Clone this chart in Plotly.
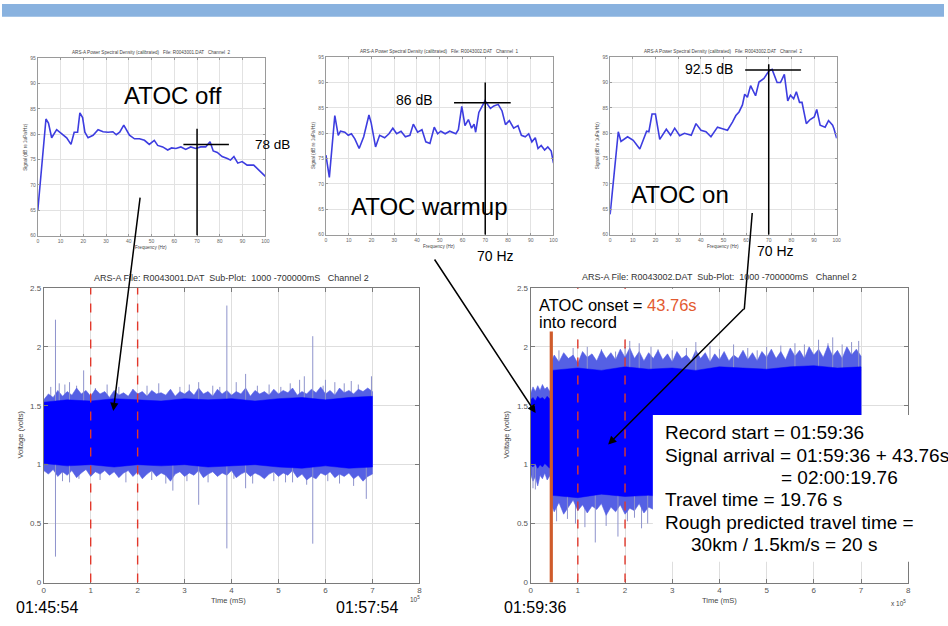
import numpy as np
import plotly.graph_objects as go

W, H = 948, 626
FONT = "Liberation Sans, Arial, sans-serif"

# ---------------- PSD spectra (frequency in Hz, level in dB) ----------------
psd_off_f = [0, 3.6, 4.7, 6.1, 8.3, 10.5, 12.7, 14.6, 16.0, 17.5, 18.5, 19.7, 20.7, 22.1, 24.3, 26.5, 28.7, 30.9,
             33.0, 34.5, 36.0, 37.8, 40.3, 42.5, 44.7, 46.9, 49.0, 51.2, 52.7, 54.9, 57.1, 58.8, 60.7, 62.9, 65.0,
             67.2, 69.4, 71.6, 73.8, 75.7, 77.1, 78.9, 81.0, 83.3, 84.7, 86.2, 87.9, 89.8, 92.0, 94.9, 97.1, 100]
psd_off_db = [64.9, 83.0, 82.2, 79.3, 80.9, 80.1, 79.3, 78.0, 80.4, 80.4, 84.2, 83.3, 80.4, 79.3, 79.8, 80.9, 80.5,
              80.4, 80.5, 79.9, 80.4, 81.8, 79.8, 79.1, 79.1, 78.8, 78.0, 78.8, 77.8, 77.5, 76.9, 77.3, 77.2, 77.5,
              77.0, 77.5, 77.2, 77.5, 77.5, 78.5, 76.7, 76.4, 75.6, 75.2, 74.9, 75.6, 74.3, 74.6, 73.9, 73.9, 73.0, 71.7]

psd_warm_f = [0, 1.5, 3.9, 5.4, 6.4, 8.3, 9.8, 11.2, 12.7, 14.6, 16.6, 18.9, 19.9, 21.8, 23.6, 25.8, 27.7, 29.4,
              31.1, 33.0, 34.9, 36.9, 38.4, 40.3, 42.2, 43.9, 45.7, 47.6, 49.1, 50.5, 52.4, 54.4, 57.1, 58.2, 59.7,
              61.1, 62.6, 64.0, 65.1, 65.8, 67.2, 69.9, 72.3, 73.8, 75.7, 77.4, 78.9, 80.6, 82.5, 84.4, 85.9, 87.6,
              89.1, 90.5, 92.0, 93.2, 94.6, 96.1, 97.5, 99.0, 100]
psd_warm_db = [75.7, 71.3, 83.5, 79.6, 80.4, 80.2, 79.6, 79.9, 78.9, 77.0, 79.3, 83.6, 82.0, 77.3, 79.6, 79.1, 79.9,
               81.0, 79.9, 80.4, 79.3, 79.6, 81.8, 80.2, 80.7, 78.3, 78.0, 81.2, 79.9, 80.4, 79.9, 80.4, 79.9, 80.7,
               85.3, 81.5, 82.7, 81.0, 81.8, 80.2, 84.1, 86.4, 84.9, 85.4, 85.7, 84.4, 81.7, 82.5, 81.0, 81.5, 79.6,
               79.3, 79.9, 78.3, 79.1, 77.0, 77.6, 76.7, 77.3, 76.5, 74.1]

psd_on_f = [0, 3.6, 4.8, 7.7, 10.2, 13.1, 16.1, 17.1, 18.5, 20.0, 21.9, 24.8, 26.7, 28.5, 30.7, 32.8, 35.8, 37.9,
            40.1, 42.3, 44.5, 47.4, 49.6, 51.8, 54.0, 55.5, 56.9, 58.4, 59.4, 60.6, 62.0, 63.2, 64.2, 65.7, 67.9,
            70.1, 71.5, 73.7, 75.2, 76.9, 78.4, 79.6, 81.0, 82.2, 83.6, 84.7, 86.6, 88.3, 90.1, 91.2, 92.7, 94.9,
            96.4, 98.2, 98.8, 100]
psd_on_db = [64.0, 80.3, 78.4, 79.3, 78.6, 76.9, 80.4, 80.3, 83.8, 83.8, 78.8, 80.8, 79.6, 81.0, 79.5, 80.0, 79.6,
             81.9, 80.6, 80.3, 79.3, 81.2, 80.9, 80.6, 82.2, 83.5, 84.2, 85.6, 87.7, 87.1, 89.4, 88.2, 87.4, 90.1,
             90.8, 92.3, 92.6, 90.0, 90.0, 91.6, 86.4, 87.5, 86.8, 88.2, 86.1, 86.1, 81.9, 82.7, 83.2, 84.7, 81.6,
             81.2, 82.5, 81.6, 80.9, 79.0]

# crosshair readings: (freq, level, horizontal span, vertical top)
mark_off = dict(f=70, db=78.0, f0=64, f1=84, top=81.1)
mark_warm = dict(f=70, db=86.0, f0=56.3, f1=81.2, top=90.0)
mark_on = dict(f=70, db=92.5, f0=59.6, f1=84.2, top=93.6)

# ---------------- time series envelopes (time in 1e5 ms, volts) ----------------
left_t = np.round(np.arange(0, 7.001, 0.1), 2)
left_top_fringe = [1.55, 1.60, 1.57, 1.63, 1.58, 1.62, 1.59, 1.65, 1.60, 1.63,
                   1.58, 1.64, 1.60, 1.62, 1.57, 1.63, 1.59, 1.61, 1.58, 1.64,
                   1.60, 1.62, 1.58, 1.63, 1.60, 1.61, 1.59, 1.64, 1.58, 1.62,
                   1.60, 1.63, 1.59, 1.65, 1.60, 1.62, 1.58, 1.64, 1.60, 1.63,
                   1.59, 1.62, 1.60, 1.65, 1.58, 1.63, 1.60, 1.62, 1.59, 1.64,
                   1.60, 1.63, 1.61, 1.65, 1.59, 1.62, 1.60, 1.64, 1.61, 1.66,
                   1.60, 1.63, 1.59, 1.65, 1.61, 1.63, 1.60, 1.64, 1.62, 1.65, 1.62]
left_bot_fringe = [0.95, 0.92, 0.96, 0.90, 0.94, 0.91, 0.95, 0.89, 0.93, 0.96,
                   0.90, 0.94, 0.92, 0.95, 0.91, 0.94, 0.89, 0.93, 0.95, 0.90,
                   0.94, 0.88, 0.92, 0.95, 0.90, 0.93, 0.91, 0.86, 0.92, 0.94,
                   0.90, 0.93, 0.91, 0.95, 0.89, 0.92, 0.94, 0.90, 0.93, 0.91,
                   0.95, 0.89, 0.92, 0.94, 0.90, 0.93, 0.91, 0.88, 0.92, 0.94,
                   0.90, 0.93, 0.91, 0.95, 0.89, 0.92, 0.87, 0.90, 0.88, 0.93,
                   0.91, 0.94, 0.89, 0.92, 0.90, 0.93, 0.88, 0.91, 0.86, 0.90, 0.92]
left_core_t = np.round(np.arange(0, 7.001, 0.5), 2)
left_top_core = [1.53, 1.55, 1.54, 1.56, 1.55, 1.54, 1.56, 1.55, 1.56, 1.54, 1.56, 1.57, 1.55, 1.57, 1.58]
left_bot_core = [1.01, 0.99, 1.00, 0.98, 1.00, 0.99, 1.00, 0.98, 0.99, 1.00, 0.98, 0.97, 0.99, 0.97, 0.98]
left_spike_up_t = [0.25, 0.33, 0.55, 0.85, 3.30, 3.90, 4.30, 5.55, 5.73, 6.00, 6.98]
left_spike_up_v = [2.23, 1.69, 1.70, 1.80, 1.70, 2.35, 1.77, 1.75, 2.09, 1.72, 1.75]
left_spike_dn_t = [0.25, 0.55, 2.75, 3.30, 3.90, 4.30, 5.30, 5.73, 6.87]
left_spike_dn_v = [0.22, 0.85, 0.78, 0.66, 0.29, 0.80, 0.85, 0.33, 0.71]
left_streak_up_t = [0.15, 0.45, 0.7, 1.1, 1.35, 1.6, 1.9, 2.2, 2.45, 2.9, 3.1, 3.6, 3.75, 4.1, 4.55, 4.8,
                    5.05, 5.25, 5.45, 5.95, 6.2, 6.4, 6.55, 6.7]
left_streak_up_v = [1.66, 1.68, 1.67, 1.65, 1.68, 1.66, 1.64, 1.67, 1.69, 1.66, 1.68, 1.67, 1.66, 1.70, 1.67, 1.68,
                    1.66, 1.69, 1.72, 1.67, 1.70, 1.69, 1.71, 1.68]
left_streak_dn_t = [0.4, 0.75, 1.2, 1.75, 2.3, 2.6, 3.05, 3.5, 4.05, 4.45, 4.9, 5.15, 5.6, 6.05, 6.3, 6.6]
left_streak_dn_v = [0.86, 0.88, 0.87, 0.85, 0.87, 0.84, 0.86, 0.85, 0.88, 0.84, 0.86, 0.85, 0.83, 0.86, 0.84, 0.82]

onset_s = 43.76                      # seconds into record
onset_x = onset_s * 1000 / 1e5       # in units of 1e5 ms

right_pre_t = [0.0, 0.05, 0.10, 0.15, 0.20, 0.25, 0.30, 0.35, 0.40, 0.43]
right_pre_top_fringe = [1.60, 1.66, 1.62, 1.67, 1.63, 1.68, 1.64, 1.66, 1.62, 1.65]
right_pre_top_core = [1.55, 1.57, 1.54, 1.58, 1.56, 1.57, 1.55, 1.58, 1.56, 1.57]
right_pre_bot_core = [1.00, 0.98, 1.01, 0.97, 1.00, 0.98, 1.01, 0.99, 0.97, 1.00]
right_pre_bot_fringe = [0.92, 0.86, 0.90, 0.82, 0.91, 0.88, 0.93, 0.87, 0.90, 0.92]

right_post_t = np.round(np.concatenate([[onset_x + 0.005], np.arange(0.5, 7.001, 0.1)]), 3)
right_post_top_fringe = [1.88, 1.93, 1.87, 1.95, 1.90, 1.93, 1.86, 1.96, 1.91, 1.94,
                         1.88, 1.97, 1.90, 1.95, 1.89, 1.98, 1.91, 1.99, 1.90, 1.96,
                         1.88, 1.95, 1.90, 1.97, 1.89, 1.94, 1.87, 1.96, 1.90, 1.93,
                         1.88, 1.97, 1.90, 1.95, 1.87, 1.94, 1.89, 1.96, 1.88, 1.93,
                         1.90, 1.97, 1.89, 1.95, 1.88, 1.96, 1.91, 1.98, 1.90, 1.96,
                         1.89, 1.99, 1.92, 1.97, 1.90, 2.00, 1.93, 1.98, 1.91, 2.01,
                         1.92, 1.97, 1.90, 2.00, 1.93, 1.98, 1.92]
right_post_bot_fringe = [0.66, 0.60, 0.68, 0.58, 0.64, 0.70, 0.61, 0.66, 0.59, 0.65,
                         0.62, 0.67, 0.57, 0.64, 0.60, 0.66, 0.58, 0.63, 0.61, 0.67,
                         0.59, 0.64, 0.62, 0.66, 0.60, 0.65, 0.58, 0.63, 0.61, 0.66,
                         0.60, 0.64, 0.62, 0.67, 0.59, 0.65, 0.61, 0.63, 0.60, 0.66,
                         0.62, 0.65, 0.59, 0.64, 0.61, 0.66, 0.60, 0.63, 0.62, 0.65,
                         0.60, 0.64, 0.61, 0.66, 0.59, 0.63, 0.62, 0.65, 0.60, 0.64,
                         0.61, 0.66, 0.60, 0.63, 0.62, 0.65, 0.64]
right_core_t = [onset_x + 0.005, 1.0, 1.5, 2.0, 2.5, 3.0, 3.5, 4.0, 4.5, 5.0, 5.5, 6.0, 6.5, 7.0]
right_post_top_core = [1.80, 1.82, 1.80, 1.83, 1.81, 1.82, 1.80, 1.83, 1.82, 1.81, 1.83, 1.84, 1.82, 1.83]
right_post_bot_core = [0.74, 0.72, 0.75, 0.73, 0.74, 0.72, 0.74, 0.73, 0.75, 0.74, 0.73, 0.74, 0.72, 0.74]
right_spike_up_t = [1.20, 2.10, 2.30, 2.55, 3.50, 4.30, 5.00, 5.60, 6.10, 6.40, 6.60, 6.95]
right_spike_up_v = [2.00, 2.05, 2.03, 2.00, 2.04, 2.02, 2.00, 2.03, 2.06, 2.08, 2.02, 2.05]
right_spike_dn_t = [0.05, 0.10, 0.78, 1.37, 1.85, 2.20, 2.48]
right_spike_dn_v = [0.80, 0.79, 0.54, 0.34, 0.39, 0.55, 0.50]
right_streak_up_t = [0.6, 0.9, 1.5, 1.8, 2.0, 2.7, 3.0, 3.3, 3.8, 4.0, 4.6, 4.8, 5.3, 5.8, 6.3, 6.8]
right_streak_up_v = [1.97, 1.99, 1.98, 1.96, 2.00, 1.98, 1.97, 1.99, 2.01, 1.98, 1.99, 1.97, 2.01, 2.02, 2.03, 2.04]
right_streak_dn_t = [0.55, 0.95, 1.15, 1.6, 2.05, 2.35]
right_streak_dn_v = [0.52, 0.50, 0.47, 0.48, 0.52, 0.46]

marker_lines = [1, 2]   # red dashed markers (1e5 ms)

# ---------------- helpers ----------------
def px(x, y):
    return x / W, 1 - y / H


def spikes(ts, vs, base):
    xs, ys = [], []
    for t, v in zip(ts, vs):
        xs += [t, t, None]
        ys += [base, v, None]
    return xs, ys


def band(t_top, top, t_bot, bot):
    t_top = list(t_top)
    t_bot = list(t_bot)
    return t_top + t_bot[::-1], list(top) + list(bot)[::-1]


BLUE = "#0000ff"
FRINGE = "#5560e4"
SPIKE = "#8e93cc"
PSD_LINE = "#3d3de0"

fig = go.Figure()

# PSD traces
for i, (f, d) in enumerate([(psd_off_f, psd_off_db), (psd_warm_f, psd_warm_db), (psd_on_f, psd_on_db)]):
    ax = "" if i == 0 else str(i + 1)
    fig.add_trace(go.Scatter(x=f, y=d, mode="lines", line=dict(color=PSD_LINE, width=1.6),
                             xaxis="x" + ax, yaxis="y" + ax, hoverinfo="skip"))

# left time series
xs, ys = spikes(left_streak_up_t + left_streak_dn_t, left_streak_up_v + left_streak_dn_v, 1.25)
fig.add_trace(go.Scatter(x=xs, y=ys, mode="lines", line=dict(color=SPIKE, width=1), xaxis="x4", yaxis="y4",
                         hoverinfo="skip"))
xb, yb = band(left_t, left_top_fringe, left_t, left_bot_fringe)
fig.add_trace(go.Scatter(x=xb, y=yb, fill="toself", fillcolor=FRINGE, line=dict(color=FRINGE, width=0.6),
                         mode="lines", xaxis="x4", yaxis="y4", hoverinfo="skip"))
xs, ys = spikes(left_spike_up_t + left_spike_dn_t, left_spike_up_v + left_spike_dn_v, 1.25)
fig.add_trace(go.Scatter(x=xs, y=ys, mode="lines", line=dict(color=SPIKE, width=1), xaxis="x4", yaxis="y4",
                         hoverinfo="skip"))
xb, yb = band(left_core_t, left_top_core, left_core_t, left_bot_core)
fig.add_trace(go.Scatter(x=xb, y=yb, fill="toself", fillcolor=BLUE, line=dict(color=BLUE, width=0.5),
                         mode="lines", xaxis="x4", yaxis="y4", hoverinfo="skip"))

# right time series
xs, ys = spikes(right_streak_up_t + right_streak_dn_t, right_streak_up_v + right_streak_dn_v, 1.25)
fig.add_trace(go.Scatter(x=xs, y=ys, mode="lines", line=dict(color=SPIKE, width=1), xaxis="x5", yaxis="y5",
                         hoverinfo="skip"))
xb, yb = band(right_pre_t, right_pre_top_fringe, right_pre_t, right_pre_bot_fringe)
fig.add_trace(go.Scatter(x=xb, y=yb, fill="toself", fillcolor=FRINGE, line=dict(color=FRINGE, width=0.6),
                         mode="lines", xaxis="x5", yaxis="y5", hoverinfo="skip"))
xb, yb = band(right_post_t, right_post_top_fringe, right_post_t, right_post_bot_fringe)
fig.add_trace(go.Scatter(x=xb, y=yb, fill="toself", fillcolor=FRINGE, line=dict(color=FRINGE, width=0.6),
                         mode="lines", xaxis="x5", yaxis="y5", hoverinfo="skip"))
xs, ys = spikes(right_spike_up_t + right_spike_dn_t, right_spike_up_v + right_spike_dn_v, 1.25)
fig.add_trace(go.Scatter(x=xs, y=ys, mode="lines", line=dict(color=SPIKE, width=1), xaxis="x5", yaxis="y5",
                         hoverinfo="skip"))
xb, yb = band(right_pre_t, right_pre_top_core, right_pre_t, right_pre_bot_core)
fig.add_trace(go.Scatter(x=xb, y=yb, fill="toself", fillcolor=BLUE, line=dict(color=BLUE, width=0.5),
                         mode="lines", xaxis="x5", yaxis="y5", hoverinfo="skip"))
xb, yb = band(right_core_t, right_post_top_core, right_core_t, right_post_bot_core)
fig.add_trace(go.Scatter(x=xb, y=yb, fill="toself", fillcolor=BLUE, line=dict(color=BLUE, width=0.5),
                         mode="lines", xaxis="x5", yaxis="y5", hoverinfo="skip"))

# ---------------- axes ----------------
def psd_axes(x0, x1, y0, y1, n):
    s = "" if n == 1 else str(n)
    common = dict(showline=True, linecolor="#9a9a9a", linewidth=1, mirror="ticks", showgrid=True,
                  gridcolor="#e2e2e2", gridwidth=1, ticks="inside", ticklen=2, tickcolor="#9a9a9a",
                  tickfont=dict(size=5, color="#666", family=FONT), zeroline=False, fixedrange=True)
    return {
        "xaxis" + s: dict(domain=[x0 / W, x1 / W], anchor="y" + s, range=[0, 100], dtick=10, **common),
        "yaxis" + s: dict(domain=[1 - y1 / H, 1 - y0 / H], anchor="x" + s, range=[60, 95], dtick=5, **common),
    }


def ts_axes(x0, x1, y0, y1, n):
    s = str(n)
    common = dict(showline=True, linecolor="#7a7a7a", linewidth=1, mirror="ticks", showgrid=True,
                  gridcolor="#dedede", gridwidth=1, ticks="inside", ticklen=4, tickcolor="#7a7a7a",
                  tickfont=dict(size=8, color="#555", family=FONT), zeroline=False, fixedrange=True)
    return {
        "xaxis" + s: dict(domain=[x0 / W, x1 / W], anchor="y" + s, range=[0, 8], dtick=1, **common),
        "yaxis" + s: dict(domain=[1 - y1 / H, 1 - y0 / H], anchor="x" + s, range=[0, 2.5], dtick=0.5, **common),
    }


layout = dict(width=W, height=H, margin=dict(l=0, r=0, t=0, b=0), paper_bgcolor="white",
              plot_bgcolor="white", showlegend=False, font=dict(family=FONT))
layout.update(psd_axes(36, 265, 55, 235, 1))
layout.update(psd_axes(326, 555, 54, 234, 2))
layout.update(psd_axes(612, 840, 54, 234, 3))
layout.update(ts_axes(42, 420, 288, 587, 4))
layout.update(ts_axes(532, 912, 288, 587, 5))
fig.update_layout(**layout)

# ---------------- shapes ----------------
shapes = []
bx0, by1 = px(0, 0)
bx1, by0 = px(W, 13)
shapes.append(dict(type="rect", xref="paper", yref="paper", x0=bx0, x1=bx1, y0=by0, y1=by1,
                   fillcolor="#89b2df", line=dict(width=0), layer="above"))

for n, m in [("", mark_off), ("2", mark_warm), ("3", mark_on)]:
    shapes.append(dict(type="line", xref="x" + n, yref="y" + n, x0=m["f"], x1=m["f"], y0=60, y1=m["top"],
                       line=dict(color="black", width=1.5)))
    shapes.append(dict(type="line", xref="x" + n, yref="y" + n, x0=m["f0"], x1=m["f1"], y0=m["db"], y1=m["db"],
                       line=dict(color="black", width=1.5)))

for n in ["4", "5"]:
    for xv in marker_lines:
        shapes.append(dict(type="line", xref="x" + n, yref="y" + n, x0=xv, x1=xv, y0=0, y1=2.5,
                           line=dict(color="#e2382b", width=1.4, dash="dash")))

# white label backgrounds over the right plot
ox0, oy0 = px(535, 289)
ox1, oy1 = px(705, 340)
shapes.append(dict(type="rect", xref="paper", yref="paper", x0=ox0, x1=ox1, y0=oy1, y1=oy0,
                   fillcolor="white", line=dict(width=0), layer="above"))
shapes.append(dict(type="line", xref="x5", yref="y5", x0=onset_x, x1=onset_x, y0=0, y1=2.13,
                   line=dict(color="#cf5b2b", width=3.2)))
tx0, ty0 = px(655, 417)
tx1, ty1 = px(948, 566)
shapes.append(dict(type="rect", xref="paper", yref="paper", x0=tx0, x1=tx1, y0=ty1, y1=ty0,
                   fillcolor="white", line=dict(width=0), layer="above"))
# first leg of the "ATOC on" arrow
kx0, ky0 = px(755, 212)
kx1, ky1 = px(747, 310)
shapes.append(dict(type="line", xref="paper", yref="paper", x0=kx0, y0=ky0, x1=kx1, y1=ky1,
                   line=dict(color="black", width=1.5)))
fig.update_layout(shapes=shapes)

# ---------------- annotations ----------------
ann = []


def text(x, y, s, size, color="black", xanchor="center", yanchor="middle", angle=0):
    xp, yp = px(x, y)
    ann.append(dict(x=xp, y=yp, xref="paper", yref="paper", text=s, showarrow=False, xanchor=xanchor,
                    yanchor=yanchor, textangle=angle, font=dict(size=size, color=color, family=FONT)))


def arrow(hx, hy, tx, ty):
    xp, yp = px(hx, hy)
    ann.append(dict(x=xp, y=yp, xref="paper", yref="paper", text="", showarrow=True, ax=tx - hx, ay=ty - hy,
                    arrowhead=2, arrowsize=1.1, arrowwidth=1.5, arrowcolor="black", standoff=0,
                    font=dict(size=10)))


psd_title = "ARS-A Power Spectral Density (calibrated)   File: {}   Channel  {}"
text(150, 49, psd_title.format("R0043001.DAT", 2), 4.6, "#444")
text(440, 48, psd_title.format("R0043002.DAT", 1), 4.6, "#444")
text(726, 48, psd_title.format("R0043002.DAT", 2), 4.6, "#444")
for cx, cy in [(150, 247), (440, 246), (726, 246)]:
    text(cx, cy, "Frequency (Hz)", 4.6, "#444")
for cx, cy in [(24, 145), (314, 144), (600, 144)]:
    text(cx, cy, "Signal (dB re 1uPa/Hz)", 4.6, "#444", angle=-90)

text(172, 93, "ATOC off", 24)
text(253, 143, "78 dB", 13.5, xanchor="left")
text(430, 205, "ATOC warmup", 24)
text(415, 97, "86 dB", 14)
text(497, 256, "70 Hz", 14)
text(682, 193, "ATOC on", 24)
text(712, 66, "92.5 dB", 14)
text(778, 251, "70 Hz", 14)

ts_title = "ARS-A File: {}  Sub-Plot:  1000 -700000mS   Channel 2"
text(231, 278, ts_title.format("R0043001.DAT"), 9, "#333")
text(722, 277, ts_title.format("R0043002.DAT"), 9, "#333")
text(228, 605, "Time (mS)", 7.5, "#444")
text(722, 605, "Time (mS)", 7.5, "#444")
text(19, 437, "Voltage (volts)", 7.5, "#444", angle=-90)
text(508, 437, "Voltage (volts)", 7.5, "#444", angle=-90)
text(416, 604, "10<sup>5</sup>", 6.5, "#444")
text(902, 608, "x 10<sup>5</sup>", 6.5, "#444")

text(12, 612, "01:45:54", 16, xanchor="left")
text(401, 612, "01:57:54", 16, xanchor="right")
text(503, 612, "01:59:36", 16, xanchor="left")

text(538, 305, "ATOC onset = <span style='color:#e35a30'>%.2fs</span>" % onset_s, 16.5, xanchor="left")
text(538, 323, "into record", 16.5, xanchor="left")

text(665, 435, "Record start = 01:59:36", 19, xanchor="left")
text(665, 458, "Signal arrival = 01:59:36 + %.2fs" % onset_s, 19, xanchor="left")
text(782, 480, "= 02:00:19.76", 19, xanchor="left")
text(665, 503, "Travel time = 19.76 s", 19, xanchor="left")
text(665, 526, "Rough predicted travel time =", 19, xanchor="left")
text(691, 548, "30km / 1.5km/s = 20 s", 19, xanchor="left")

arrow(112, 413, 139, 198)
arrow(537, 415, 435, 260)
arrow(610, 447, 747, 310)

fig.update_layout(annotations=ann)
fig.write_html("out.html", config={"displayModeBar": False},
               post_script="document.body.style.margin='0';document.body.style.overflow='hidden';")
